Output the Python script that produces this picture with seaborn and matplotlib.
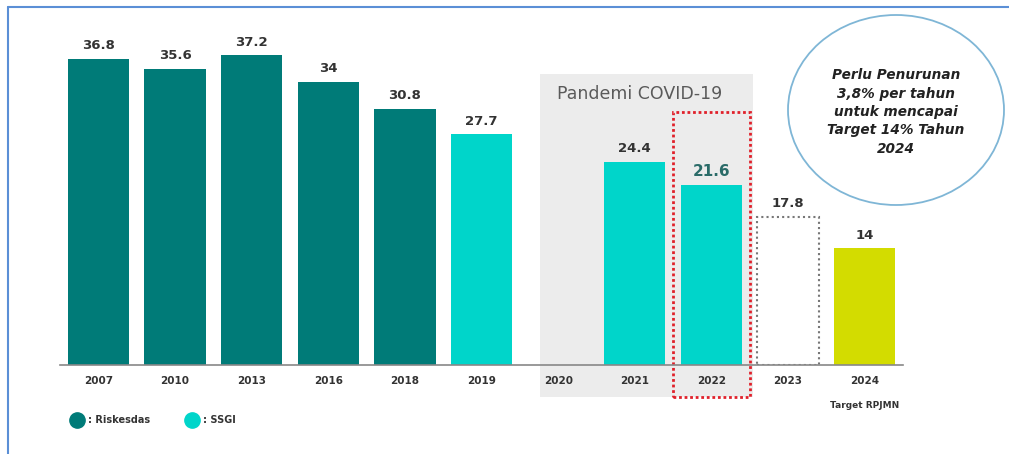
import numpy as np
import pandas as pd
import matplotlib.pyplot as plt
import seaborn as sns
from matplotlib.patches import Rectangle, Ellipse
from matplotlib.lines import Line2D

# data
years = ['2007', '2010', '2013', '2016', '2018', '2019', '2020', '2021', '2022', '2023', '2024']
stunting = [36.8, 35.6, 37.2, 34.0, 30.8, 27.7, np.nan, 24.4, 21.6, 17.8, 14.0]
source = ['Riskesdas', 'Riskesdas', 'Riskesdas', 'Riskesdas', 'Riskesdas', 'SSGI',
          'none', 'SSGI', 'SSGI', 'Proyeksi', 'Target']
value_labels = ['36.8', '35.6', '37.2', '34', '30.8', '27.7', '', '24.4', '21.6', '17.8', '14']

colors = {'Riskesdas': '#007b78', 'SSGI': '#00d5ca', 'none': '#ffffff',
          'Proyeksi': '#ffffff', 'Target': '#d3dc00'}

df = pd.DataFrame({'tahun': years, 'nilai': stunting, 'sumber': source})

sns.set_style('white')
plt.rcParams['font.family'] = ['DejaVu Sans']

fig = plt.figure(figsize=(10.09, 4.54), dpi=100)
ax = fig.add_axes([60/1009, 89/454, 843/1009, 333/454])

# gray pandemic band and red highlight box behind the bars
ax.add_patch(Rectangle((5.76, -3.85), 2.78, 38.75, facecolor='#ececec', edgecolor='none',
                       zorder=0, clip_on=False))
ax.text(5.99, 32.6, 'Pandemi COVID-19', fontsize=12.5, color='#5a5a5a', va='center', ha='left')

sns.barplot(data=df, x='tahun', y='nilai', hue='tahun', order=years,
            palette=[colors[s] for s in source], legend=False, width=0.8,
            saturation=1, linewidth=0, ax=ax, zorder=2)

# 2023 bar as dotted outline
for patch, s in zip(ax.patches[1:], [s for s, v in zip(source, stunting) if not np.isnan(v)]):
    if s == 'Proyeksi':
        patch.set_facecolor('none')
        patch.set_edgecolor('#777777')
        patch.set_linestyle((0, (1, 1.5)))
        patch.set_linewidth(1.5)

ax.add_patch(Rectangle((7.5, -3.85), 1.0, 34.25, facecolor='none', edgecolor='#e0202a',
                       linestyle=(0, (1, 1)), linewidth=2, zorder=3, clip_on=False))

for i, (v, lab) in enumerate(zip(stunting, value_labels)):
    if np.isnan(v):
        continue
    c = '#2a6b68' if years[i] == '2022' else '#333333'
    fs = 11 if years[i] == '2022' else 9.5
    ax.text(i, v + 0.8, lab, ha='center', va='bottom', fontsize=fs, fontweight='bold', color=c)

ax.set_xlim(-0.5, 10.5)
ax.set_ylim(0, 40)
ax.set_xlabel('')
ax.set_ylabel('')
ax.set_yticks([])
ax.tick_params(axis='x', length=0, pad=8, labelsize=7.5, labelcolor='#333333')
for t in ax.get_xticklabels():
    t.set_fontweight('bold')
for sp in ['left', 'right', 'top']:
    ax.spines[sp].set_visible(False)
ax.spines['bottom'].set_color('#888888')
ax.spines['bottom'].set_linewidth(1.2)
ax.spines['bottom'].set_zorder(4)
ax.patch.set_alpha(0)

ax.text(10, -4.9, 'Target RPJMN', ha='center', va='center', fontsize=6.5,
        fontweight='bold', color='#333333')

# legend with circles
handles = [Line2D([], [], marker='o', linestyle='none', markersize=11, color=colors['Riskesdas']),
           Line2D([], [], marker='o', linestyle='none', markersize=11, color=colors['SSGI'])]
fig.legend(handles, [': Riskesdas', ': SSGI'], loc='center left', ncol=2, frameon=False,
           bbox_to_anchor=(59/1009, 1 - 420/454), handletextpad=0.1, columnspacing=3.3,
           prop={'size': 7, 'weight': 'bold'}, labelcolor='#333333')

# ellipse note
fig.patches.append(Ellipse((896/1009, 1 - 110/454), 216/1009, 190/454, transform=fig.transFigure,
                           facecolor='white', edgecolor='#7fb6d6', linewidth=1.3))
fig.text(896/1009, 1 - 112/454,
         'Perlu Penurunan\n3,8% per tahun\nuntuk mencapai\nTarget 14% Tahun\n2024',
         ha='center', va='center', fontsize=9.8, fontstyle='italic', fontweight='bold',
         color='#222222', linespacing=1.4)

# outer frame lines
fig.add_artist(Line2D([8/1009, 1], [1 - 7/454, 1 - 7/454], transform=fig.transFigure,
                      color='#5b8fd6', linewidth=1.5))
fig.add_artist(Line2D([8/1009, 8/1009], [0, 1 - 7/454], transform=fig.transFigure,
                      color='#5b8fd6', linewidth=1.5))

fig.savefig('out.png', dpi=100)
